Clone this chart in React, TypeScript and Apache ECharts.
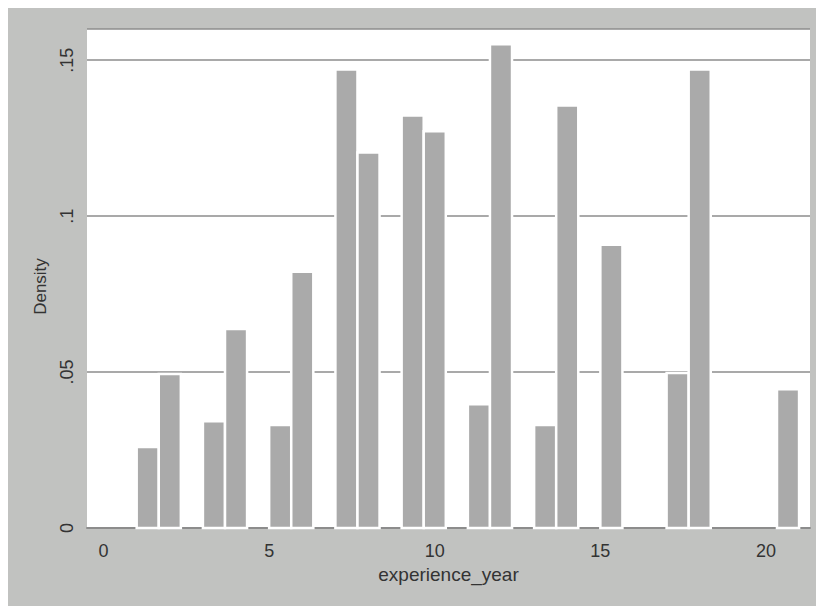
import React, { useEffect, useRef } from "react";
import * as echarts from "echarts";

// Histogram bins (experience_year), bin width 2/3, from 1 to 21
const binWidth = 2 / 3;
const binStart = [1, 5 / 3, 3, 11 / 3, 5, 17 / 3, 7, 23 / 3, 9, 29 / 3, 11, 35 / 3, 13, 41 / 3, 15, 17, 53 / 3, 61 / 3];
const density = [0.026, 0.0494, 0.0342, 0.0638, 0.033, 0.0822, 0.147, 0.1204, 0.1323, 0.1272, 0.0397, 0.1551, 0.033, 0.1355, 0.0908, 0.0497, 0.147, 0.0445];
const xTickLabels = [0, 5, 10, 15, 20];
const yTickLabels: Record<string, string> = { "0": "0", "0.05": ".05", "0.1": ".1", "0.15": ".15" };

export default function App() {
  const ref = useRef<HTMLDivElement>(null);
  useEffect(() => {
    if (!ref.current) return;
    const chart = echarts.init(ref.current, undefined, { renderer: "svg" });
    const font = "Liberation Sans, Arial, sans-serif";
    chart.setOption({
      animation: false,
      backgroundColor: "#c1c2c0",
      grid: { left: 79, right: 14, top: 21, bottom: 78, show: true, backgroundColor: "#ffffff", borderWidth: 0 },
      xAxis: {
        type: "value",
        min: -0.5,
        max: 21.33,
        interval: 0.5,
        name: "experience_year",
        nameLocation: "middle",
        nameGap: 37,
        nameTextStyle: { color: "#333", fontSize: 19, fontFamily: font },
        axisLine: { show: true, onZero: false, lineStyle: { color: "#8c8c8c", width: 2 } },
        axisTick: { show: false },
        splitLine: { show: false },
        axisLabel: {
          color: "#333",
          fontSize: 18,
          fontFamily: font,
          margin: 14,
          showMinLabel: true,
          showMaxLabel: false,
          formatter: (v: number) => (xTickLabels.indexOf(Math.round(v * 100) / 100) >= 0 ? String(v) : ""),
        },
      },
      yAxis: {
        type: "value",
        min: 0,
        max: 0.16,
        interval: 0.05,
        name: "Density",
        nameLocation: "middle",
        nameGap: 38,
        nameRotate: 90,
        nameTextStyle: { color: "#333", fontSize: 17, fontFamily: font, padding: [0, 16, 0, 0] },
        axisLine: { show: false },
        axisTick: { show: false },
        splitLine: { show: true, lineStyle: { color: "#8c8c8c", width: 1.5 } },
        axisLabel: {
          color: "#333",
          fontSize: 18,
          fontFamily: font,
          rotate: 90,
          margin: 11,
          showMaxLabel: false,
          formatter: (v: number) => yTickLabels[String(Math.round(v * 100) / 100)] ?? "",
        },
      },
      series: [
        {
          type: "custom",
          data: binStart.map((s, i) => [s, density[i]]),
          renderItem: (params: any, api: any) => {
            const x0 = api.value(0);
            const v = api.value(1);
            const p0 = api.coord([x0, v]);
            const p1 = api.coord([x0 + binWidth, 0]);
            return {
              type: "rect",
              shape: { x: p0[0], y: p0[1], width: p1[0] - p0[0], height: p1[1] - p0[1] },
              style: { fill: "#aaaaaa", stroke: "#ffffff", lineWidth: 2.5 },
            };
          },
        },
      ],
    });
    return () => chart.dispose();
  }, []);
  return <div ref={ref} style={{ width: 816, height: 598 }} />;
}
